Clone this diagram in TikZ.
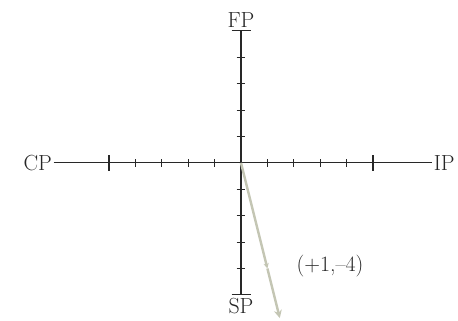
\documentclass[tikz,border=0pt]{standalone}
\usepackage{tikz}
\usetikzlibrary{arrows.meta, positioning}
\definecolor{axisgray}{RGB}{40,40,40}
\definecolor{vecgray}{RGB}{196,198,180}

\begin{document}
\begin{tikzpicture}[
  x=0.7cm, y=0.7cm,
  axis/.style={draw=axisgray, line width=0.8pt},
  lbl/.style={text=black!85, inner sep=1pt, font=\fontsize{16.5}{19}\selectfont},
  vec/.style={draw=vecgray, line width=1.8pt},
]
  \useasboundingbox (-9.13,-5.98) rectangle (8.22,6.17);

  \coordinate (o)   at (0,0);
  \coordinate (top) at (0,5);
  \coordinate (bot) at (0,-5);
  \coordinate (v)   at (1,-4);
  \coordinate (tip) at (1.47,-5.88);

  \node[lbl] (cp) at (-7.7,0) {CP};
  \node[lbl] (ip) at (7.7,0)  {IP};
  \node[lbl, above=1pt of top] (fp) {FP};
  \node[lbl, below=1pt of bot] (sp) {SP};

  \draw[axis] (cp.east) -- (ip.west);
  \draw[axis] (top) -- (bot);

  % ticks
  \foreach \i in {-4,...,-1,1,2,3,4} {
    \draw[axis] (\i,-0.15) -- (\i,0.15);
    \draw[axis] (-0.17,\i) -- (0.17,\i);
  }
  \draw[axis] (-5,-0.3) -- (-5,0.3);
  \draw[axis] (5,-0.3) -- (5,0.3);
  \draw[axis] (-0.36,5) -- (0.36,5);
  \draw[axis] (-0.36,-5) -- (0.36,-5);

  % vector
  \draw[vec, -{Stealth[length=4pt,width=4pt]}] (o) -- (v);
  \draw[vec, -{Stealth[length=6pt,width=6pt]}] (v) -- (tip);
  \node[lbl] (vlbl) at (3.37,-3.9) {(+1,--4)};
\end{tikzpicture}
\end{document}
